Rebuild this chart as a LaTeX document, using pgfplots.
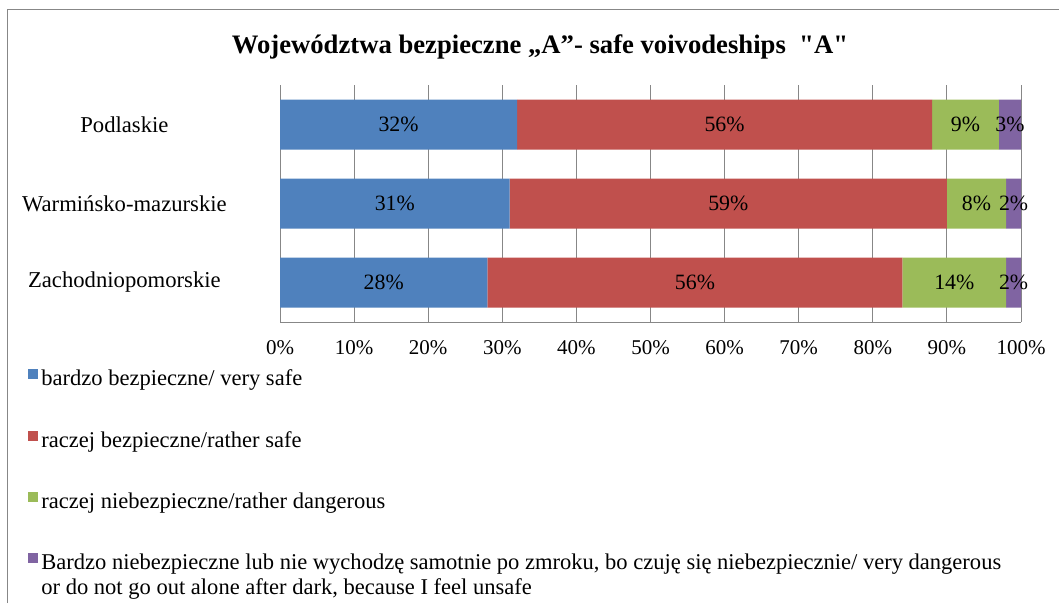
\documentclass[border=0pt]{standalone}
\usepackage{pgfplots}
\pgfplotsset{compat=1.18}
\usepackage{pgfplotstable}
\usepackage{fontspec}
\setmainfont{Liberation Serif}
\newfontfamily\rawserif{Liberation Serif}[Ligatures=TeXOff]
\definecolor{cBlue}{HTML}{4F81BD}
\definecolor{cRed}{HTML}{C0504D}
\definecolor{cGreen}{HTML}{9BBB59}
\definecolor{cPurple}{HTML}{8064A2}
\definecolor{cGrid}{HTML}{878787}

% y: 0 = Zachodniopomorskie, 1 = Warminsko-mazurskie, 2 = Podlaskie
\pgfplotstableread{
y x
0 28
1 31
2 32
}\tblA
\pgfplotstableread{
y x
0 56
1 59
2 56
}\tblB
\pgfplotstableread{
y x
0 14
1 8
2 9
}\tblC
\pgfplotstableread{
y x
0 2
1 2
2 3
}\tblD

\begin{document}
\begin{tikzpicture}
\useasboundingbox (0,0) rectangle (794.25pt,-452.25pt);
\draw[cGrid, line width=0.75pt] (5.25pt,-452.25pt) -- (5.25pt,-6.75pt) -- (794.25pt,-6.75pt);
\node[anchor=base, font=\fontsize{20}{24}\selectfont\bfseries] at (405pt,-40pt)
  {Województwa bezpieczne „A”- safe voivodeships\ \ {\rawserif\bfseries "A"}};
\begin{axis}[
  at={(210pt,-241.5pt)}, anchor=south west,
  scale only axis, width=555.75pt, height=177.75pt,
  xbar stacked, bar width=37.5pt,
  xmin=0, xmax=100, ymin=-0.5, ymax=2.5,
  xtick={0,10,...,100},
  xticklabels={0\%,10\%,20\%,30\%,40\%,50\%,60\%,70\%,80\%,90\%,100\%},
  ytick={0,1,2},
  yticklabels={Zachodniopomorskie,Warmińsko-mazurskie,Podlaskie},
  major tick length=0pt,
  xmajorgrids, major grid style={cGrid, line width=0.75pt},
  axis x line*=bottom, axis y line*=left,
  axis line style={cGrid, line width=0.75pt, -},
  xticklabel style={font=\fontsize{15.75}{18}\selectfont, anchor=base, yshift=-24pt, inner sep=0pt},
  yticklabel style={font=\fontsize{17}{20}\selectfont, anchor=east, text width=155pt, align=center, inner xsep=0pt, xshift=-39pt},
  point meta=explicit symbolic,
  nodes near coords={\pgfplotspointmeta\%},
  every node near coord/.append style={font=\fontsize{16.4}{19}\selectfont, black, anchor=center},
  legend style={
    at={(-0.340,-0.194)}, anchor=north west,
    draw=none, fill=none, inner sep=0pt, outer sep=0pt,
    row sep=29pt, column sep=0.5pt,
    font=\fontsize{16.9}{18.5}\selectfont,
    cells={anchor=west, inner xsep=0pt, inner ysep=0pt, text height=11.5pt, text depth=4pt},
  },
  legend cell align=left,
  legend image code/.code={\fill[#1] (0pt,0pt) rectangle (7.5pt,7.5pt);},
]
\addplot[fill=cBlue, draw=none] table[x=x,y=y,meta=x] {\tblA};
\addlegendentry{bardzo bezpieczne/ very safe}
\addplot[fill=cRed, draw=none] table[x=x,y=y,meta=x] {\tblB};
\addlegendentry{raczej bezpieczne/rather safe}
\addplot[fill=cGreen, draw=none] table[x=x,y=y,meta=x] {\tblC};
\addlegendentry{raczej niebezpieczne/rather dangerous}
\addplot[fill=cPurple, draw=none] table[x=x,y=y,meta=x] {\tblD};
\addlegendentry{\begin{tabular}[t]{@{}l@{}}Bardzo niebezpieczne lub nie wychodzę samotnie po zmroku, bo czuję się niebezpiecznie/ very dangerous\\or do not go out alone after dark, because I feel unsafe\end{tabular}}
\end{axis}
\end{tikzpicture}
\end{document}
